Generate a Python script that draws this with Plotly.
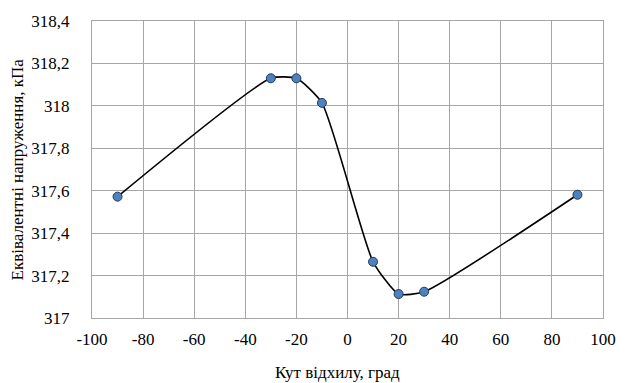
import plotly.graph_objects as go

angles = [-90, -30, -20, -10, 10, 20, 30, 90]
stress = [317.572, 318.13, 318.13, 318.014, 317.265, 317.113, 317.124, 317.581]

x_ticks = [-100, -80, -60, -40, -20, 0, 20, 40, 60, 80, 100]
y_ticks = [317.0, 317.2, 317.4, 317.6, 317.8, 318.0, 318.2, 318.4]
y_tick_text = ["317", "317,2", "317,4", "317,6", "317,8", "318", "318,2", "318,4"]

x_title = "Кут відхилу, град"
y_title = "Еквівалентні напруження, кПа"

font_family = "'Liberation Serif', 'Times New Roman', 'DejaVu Serif', serif"
fs = 17

fig = go.Figure()
fig.add_trace(go.Scatter(
    x=angles, y=stress, mode="lines+markers",
    line=dict(color="#000000", width=1.6, shape="spline", smoothing=0.55),
    marker=dict(size=9, color="#4F81BD", line=dict(color="#1F3A60", width=1)),
    showlegend=False,
))

fig.update_layout(
    width=628, height=383,
    margin=dict(l=92, r=15, t=17, b=65),
    paper_bgcolor="white", plot_bgcolor="white",
    font=dict(family=font_family, size=fs, color="#000000"),
    xaxis=dict(
        range=[-100, 100], tickvals=x_ticks, ticktext=[str(v) for v in x_ticks],
        showgrid=True, gridcolor="#A6A6A6", gridwidth=1,
        showline=True, linecolor="#A6A6A6", linewidth=1, mirror=True,
        zeroline=False, ticks="", ticklabelstandoff=6,
        tickfont=dict(family=font_family, size=fs),
    ),
    yaxis=dict(
        range=[317.0, 318.4], tickvals=y_ticks, ticktext=y_tick_text,
        showgrid=True, gridcolor="#A6A6A6", gridwidth=1,
        showline=True, linecolor="#A6A6A6", linewidth=1, mirror=True,
        zeroline=False, ticks="", ticklabelstandoff=18,
        tickfont=dict(family=font_family, size=fs),
    ),
    annotations=[
        dict(text=x_title, xref="paper", yref="paper", x=0.48, y=-0.183,
             xanchor="center", yanchor="middle", showarrow=False,
             font=dict(family=font_family, size=fs)),
        dict(text=y_title, xref="paper", yref="paper", x=-0.145, y=0.5,
             xanchor="center", yanchor="middle", textangle=-90, showarrow=False,
             font=dict(family=font_family, size=fs)),
    ],
)

fig.write_html("out.html")
